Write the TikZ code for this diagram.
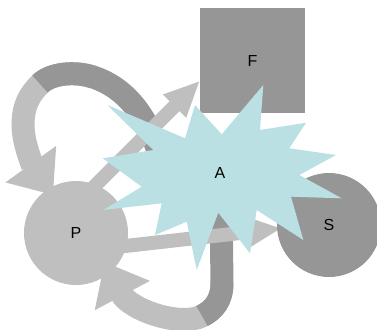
\documentclass[tikz,border=0pt]{standalone}
\usepackage{fontspec}
\setmainfont{Liberation Sans}
\usetikzlibrary{arrows.meta,backgrounds}
\definecolor{lgray}{HTML}{BFBFBF}
\definecolor{dgray}{HTML}{969696}
\definecolor{burst}{HTML}{BAE0E4}
\begin{document}
\begin{tikzpicture}[x=1pt,y=-1pt,
  lbl/.style={font=\fontsize{16}{19}\selectfont, text=black},
  disc/.style={circle, minimum size=104pt, inner sep=0pt, lbl},
  band/.style={line width=23pt},
  bigtip/.style={-{Triangle[width=60pt,length=38pt]}},
  straight/.style={line width=14pt, lgray, -{Triangle[width=30pt,length=36pt]}}]
\clip (0,0) rectangle (377,329);
% main shapes
\node[disc, fill=lgray] (P) at (76,233) {P};
\node[disc, fill=dgray] (S) at (329,225) {S};
\node[rectangle, fill=dgray, minimum size=105pt, inner sep=0pt, lbl] (F) at (252.5,60.5) {F};
\fill[burst] (107.3,105) -- (185,138.3) -- (195,105) -- (221.7,134.3) -- (263.3,85) -- (260,130)
  -- (306,122.7) -- (289.3,148.3) -- (336,155) -- (299.3,175) -- (341.7,198.3) -- (291,196.7)
  -- (303.3,240) -- (256.7,210) -- (250,253.3) -- (218.3,212.7) -- (196.7,270) -- (186.7,221.7)
  -- (155,235) -- (161.7,203.3) -- (103.3,210) -- (141.7,186.7) -- (102.7,158.3) -- (153.3,150) -- cycle;
\node[lbl] (A) at (220,173) {A};
% connectors behind
\begin{scope}[on background layer]
  \coordinate (c1) at (162,165);
  \coordinate (c2) at (93,77);
  \coordinate (c3) at (40,84);
  \coordinate (c4) at (53,195);
  \draw[band, lgray, bigtip] (c2) .. controls (74,70.8) and (50.5,73.5) .. (c3)
     .. controls (30,94) and (23,105) .. (23,125) .. controls (23,145) and (35,170) .. (c4);
  \draw[band, dgray] (c1) .. controls (152,125) and (131,89.4) .. (c2) .. controls (74,70.8) and (50.5,73.5) .. (c3);
  \coordinate (d1) at (221,205);
  \coordinate (d2) at (222,283);
  \coordinate (d3) at (202,316);
  \coordinate (d4) at (104.5,262);
  \draw[band, lgray, bigtip] (d2) .. controls (222,300) and (214,310) .. (d3)
     .. controls (180,327) and (130,310) .. (d4);
  \draw[band, dgray] (d1) -- (d2) .. controls (222,300) and (214,310) .. (d3);
  \coordinate (pf0) at (90,190.7);
  \coordinate (pf1) at (200,80.7);
  \draw[straight] (pf0) -- (pf1);
  \coordinate (ps0) at (90,250);
  \coordinate (ps1) at (281.7,228.3);
  \draw[straight] (ps0) -- (ps1);
\end{scope}
\end{tikzpicture}
\end{document}
